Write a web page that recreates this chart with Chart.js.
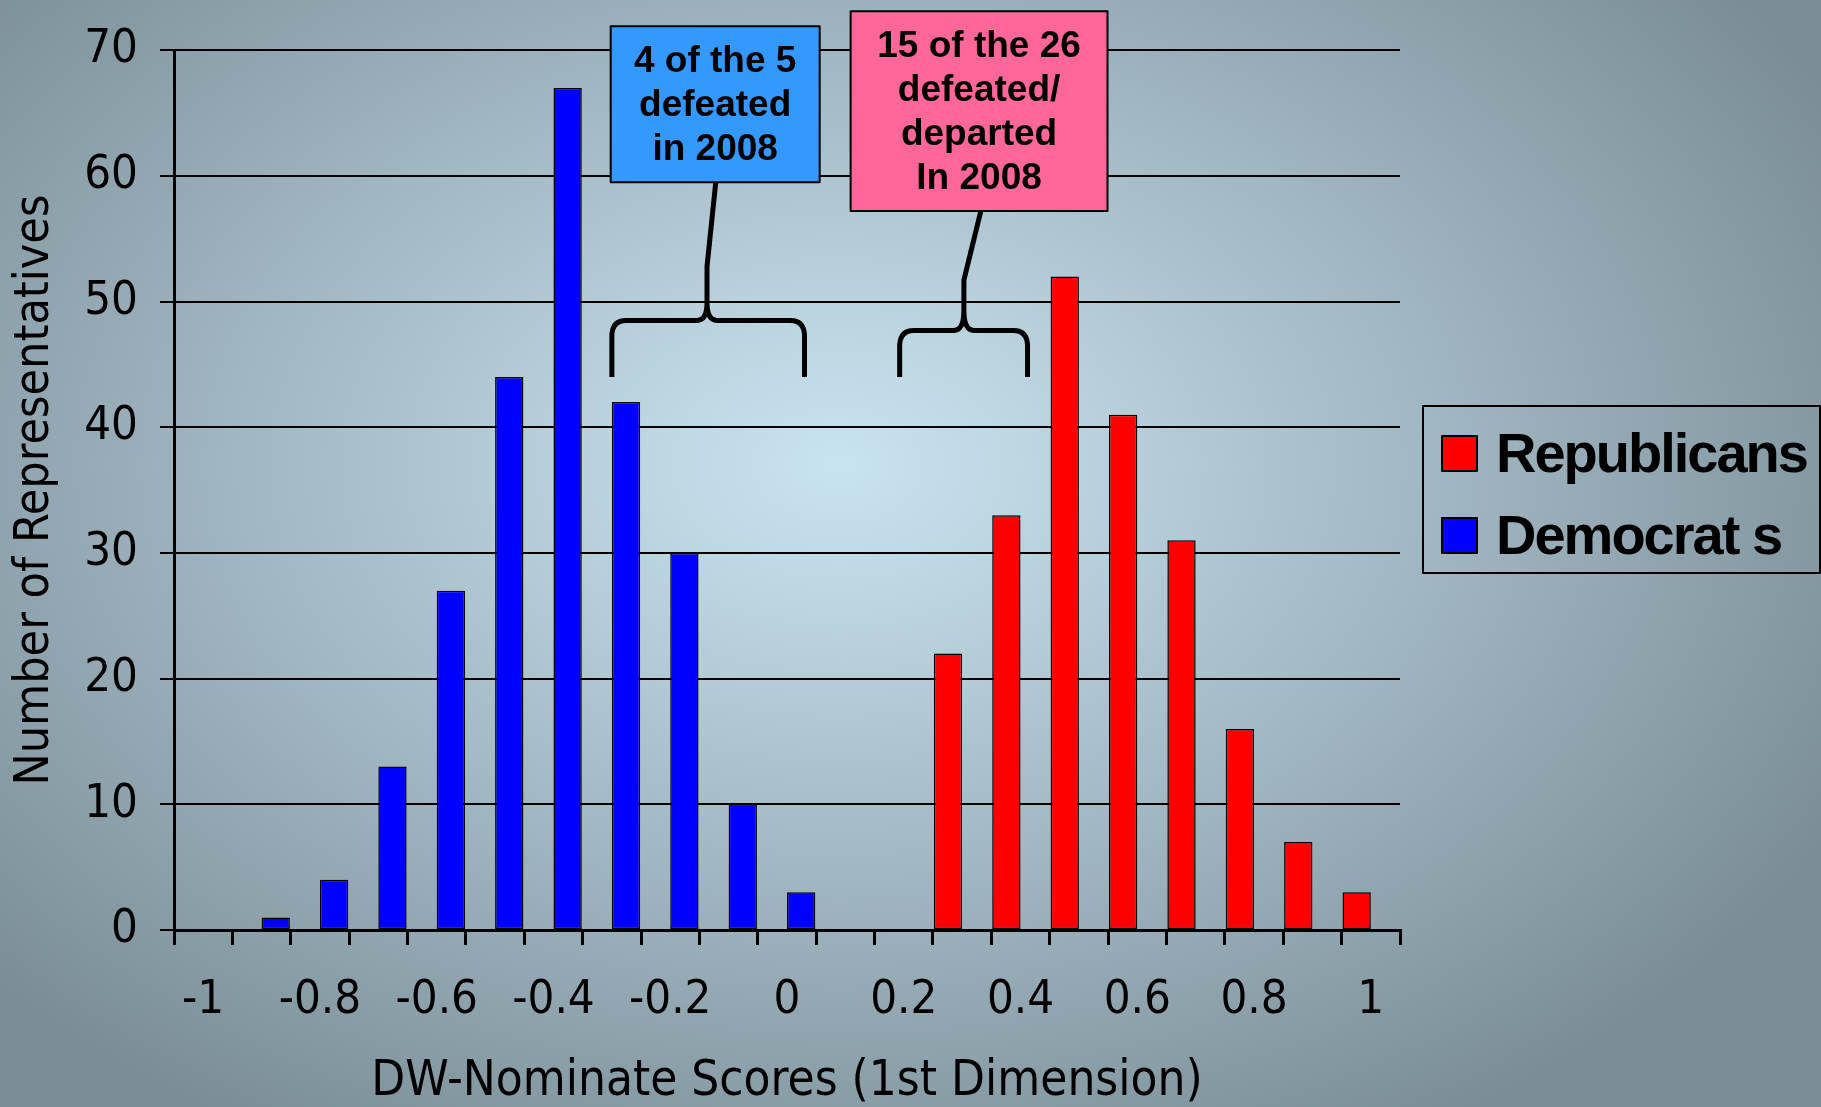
<!DOCTYPE html>
<html>
<head>
<meta charset="utf-8">
<script src="https://cdn.jsdelivr.net/npm/chart.js@4.4.1/dist/chart.umd.min.js"></script>
<style>
  html, body { margin: 0; padding: 0; }
  body {
    width: 1821px;
    height: 1107px;
    overflow: hidden;
    background: radial-gradient(ellipse 62% 70% at 46% 42%, #c8e4f0 0%, #b3cbd7 30%, #97acb7 65%, #7b8e97 100%);
  }
  #wrap { position: relative; width: 1821px; height: 1107px; }
</style>
</head>
<body>
<div id="wrap"><canvas id="dwChart"></canvas></div>
<script>
// DW-Nominate score bins (one category every 0.1)
const scoreLabels = [
  "-1", "-0.9", "-0.8", "-0.7", "-0.6", "-0.5", "-0.4", "-0.3", "-0.2", "-0.1",
  "0", "0.1", "0.2", "0.3", "0.4", "0.5", "0.6", "0.7", "0.8", "0.9", "1",
];

// Number of representatives in each bin
const republicans = [
  null, null, null, null, null, null, null, null, null, null,
  null, null, null, 22, 33, 52, 41, 31, 16, 7, 3,
];
const democrats = [
  null, 1, 4, 13, 27, 44, 67, 42, 30, 10,
  3, null, null, null, null, null, null, null, null, null, null,
];

const yTicks = [0, 10, 20, 30, 40, 50, 60, 70];

const blueNote = ["4 of the 5", "defeated", "in 2008"];
const pinkNote = ["15 of the 26", "defeated/", "departed", "In 2008"];

const tickFont = "'DejaVu Sans Condensed', 'DejaVu Sans', sans-serif";
const boldFont = "'Liberation Sans', Arial, sans-serif";

// Curly brace with a stem going up to the note box
function drawBrace(ctx, xl, xr, xc, yb, yh, yc, yStem, xBox, yBox) {
  const r = 14;
  ctx.beginPath();
  ctx.moveTo(xl, yb);
  ctx.lineTo(xl, yh + r);
  ctx.quadraticCurveTo(xl + 1, yh, xl + r, yh);
  ctx.lineTo(xc - 10, yh);
  ctx.quadraticCurveTo(xc, yh, xc, yc);
  ctx.quadraticCurveTo(xc, yh, xc + 10, yh);
  ctx.lineTo(xr - r, yh);
  ctx.quadraticCurveTo(xr - 1, yh, xr, yh + r);
  ctx.lineTo(xr, yb);
  ctx.moveTo(xc, yc);
  ctx.lineTo(xc, yStem);
  ctx.lineTo(xBox, yBox);
  ctx.stroke();
}

function drawNote(ctx, x0, x1, y0, y1, fill, lines) {
  ctx.fillStyle = fill;
  ctx.fillRect(x0, y0, x1 - x0, y1 - y0);
  ctx.strokeStyle = "#000";
  ctx.lineWidth = 2;
  ctx.strokeRect(x0, y0, x1 - x0, y1 - y0);
  ctx.fillStyle = "#000";
  ctx.font = "bold 37px " + boldFont;
  ctx.textAlign = "center";
  ctx.textBaseline = "middle";
  const lh = 44;
  const start = (y0 + y1) / 2 - (lines.length * lh) / 2 + lh / 2;
  lines.forEach((line, i) => {
    ctx.fillText(line, (x0 + x1) / 2, start + i * lh + 2);
  });
}

const notesPlugin = {
  id: "notes",
  afterDraw(chart) {
    const ctx = chart.ctx;
    const xs = chart.scales.x;
    const ys = chart.scales.y;
    const px = (v) => xs.getPixelForValue(v);
    const py = (v) => ys.getPixelForValue(v);

    ctx.save();
    ctx.strokeStyle = "#000";
    ctx.lineWidth = 5;
    ctx.lineJoin = "round";
    drawBrace(ctx, px(7.0), px(10.3), px(8.63), py(44), py(48.5), py(49.9), py(52.8), px(8.78), py(59.5));
    drawBrace(ctx, px(11.93), px(14.12), px(13.03), py(44), py(47.7), py(49.3), py(51.7), px(13.32), py(57.2));

    drawNote(ctx, px(6.98), px(10.56), py(71.9), py(59.5), "#3399ff", blueNote);
    drawNote(ctx, px(11.09), px(15.49), py(73.1), py(57.2), "#ff6699", pinkNote);

    // Legend box on the right
    const area = chart.chartArea;
    const lx = area.right + 23;
    const ly = (area.top + area.bottom) / 2 - 84;
    ctx.lineWidth = 2;
    ctx.strokeStyle = "#000";
    ctx.strokeRect(lx, ly, 397, 167);
    ctx.font = "bold 56px " + boldFont;
    ctx.letterSpacing = "-2px";
    ctx.textAlign = "left";
    ctx.textBaseline = "alphabetic";
    const names = ["Republicans", "Democrat s"];
    chart.data.datasets.forEach((ds, i) => {
      const cy = ly + 47 + i * 82;
      ctx.fillStyle = ds.backgroundColor;
      ctx.fillRect(lx + 19, cy - 17, 35, 35);
      ctx.lineWidth = 2;
      ctx.strokeRect(lx + 19, cy - 17, 35, 35);
      ctx.fillStyle = "#000";
      ctx.fillText(names[i], lx + 73, cy + 19);
    });
    ctx.restore();
  },
};

const ctx = document.getElementById("dwChart").getContext("2d");

new Chart(ctx, {
  type: "bar",
  data: {
    labels: scoreLabels,
    datasets: [
      {
        label: "Republicans",
        data: republicans,
        backgroundColor: "#ff0000",
        borderColor: "#000",
        borderWidth: 1.5,
        borderSkipped: false,
        categoryPercentage: 0.97,
        barPercentage: 1.0,
      },
      {
        label: "Democrats",
        data: democrats,
        backgroundColor: "#0000ff",
        borderColor: "#000",
        borderWidth: 1.5,
        borderSkipped: false,
        categoryPercentage: 0.97,
        barPercentage: 1.0,
      },
    ],
  },
  options: {
    responsive: true,
    maintainAspectRatio: false,
    animation: false,
    layout: { padding: { top: 44, right: 421, left: 0, bottom: 0 } },
    plugins: {
      legend: { display: false },
      tooltip: { enabled: false },
    },
    scales: {
      x: {
        grid: {
          offset: true,
          drawOnChartArea: false,
          drawTicks: true,
          tickLength: 15,
          color: "#000",
          lineWidth: 3,
        },
        border: { display: true, color: "#000", width: 3 },
        ticks: {
          autoSkip: false,
          maxRotation: 0,
          padding: 28,
          color: "#000",
          font: { family: tickFont, size: 47 },
          callback: (val, i) => (i % 2 === 0 ? scoreLabels[i] : ""),
        },
        title: {
          display: true,
          text: "DW-Nominate Scores (1st Dimension)",
          color: "#000",
          font: { family: tickFont, size: 49, lineHeight: 1.0 },
          padding: { top: 0, bottom: 0 },
        },
        afterFit: (scale) => { scale.height = 177; },
      },
      y: {
        min: 0,
        max: 70,
        afterBuildTicks: (scale) => {
          scale.ticks = yTicks.map((v) => ({ value: v }));
        },
        grid: {
          color: "#000",
          lineWidth: 2,
          drawTicks: true,
          tickLength: 14,
        },
        border: { display: true, color: "#000", width: 3 },
        ticks: {
          padding: 22,
          color: "#000",
          font: { family: tickFont, size: 47 },
        },
        title: {
          display: true,
          text: "Number of Representatives",
          color: "#000",
          font: { family: tickFont, size: 48, lineHeight: 1.0 },
          padding: { top: 12, bottom: 0 },
        },
        afterFit: (scale) => { scale.width = 174; },
      },
    },
  },
  plugins: [notesPlugin],
});
</script>
</body>
</html>
